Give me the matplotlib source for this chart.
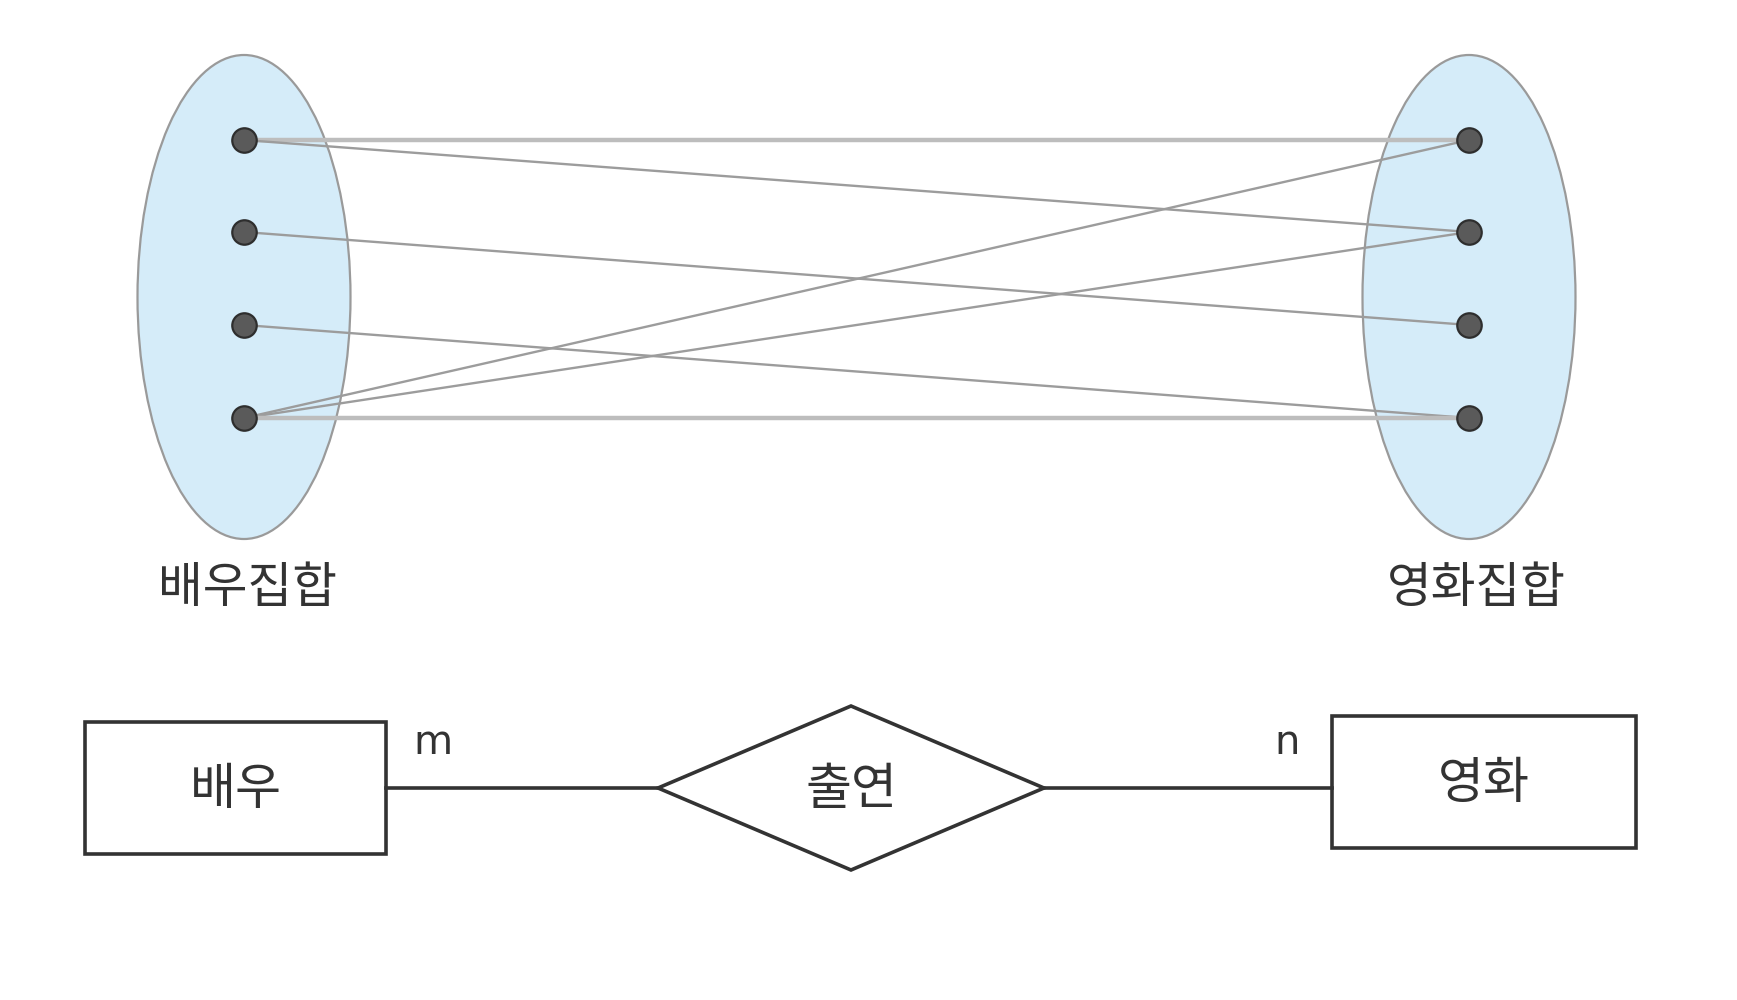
import matplotlib.pyplot as plt
from matplotlib.patches import Ellipse, Rectangle, Polygon

plt.rcParams['font.family'] = ['Noto Sans CJK KR', 'DejaVu Sans']

# set diagram (pixel coordinates, y grows downward)
set_labels = ['배우집합', '영화집합']
set_x = [244, 1469]
set_label_x = [247, 1476]
member_y = [140, 232, 325, 418]
# (actor index, movie index)
links = [(0, 0), (0, 1), (1, 2), (2, 3), (3, 0), (3, 1), (3, 3)]

# ER diagram
entity_names = ['배우', '영화']
entity_boxes = [(85, 722, 301, 132), (1332, 716, 304, 132)]
relation_name = '출연'
relation_center = (851, 788)
relation_half = (193, 82)
cardinality = ['m', 'n']
cardinality_x = [433, 1287]

fig = plt.figure(figsize=(17.37, 10), dpi=100)
ax = fig.add_axes([0, 0, 1, 1])
ax.set_xlim(0, 1737)
ax.set_ylim(1000, 0)
ax.axis('off')

# ellipses for the two sets
for x in set_x:
    ax.add_patch(Ellipse((x, 297), 213, 484, facecolor='#d5ecf9',
                         edgecolor='#9a9a9a', lw=1.6, zorder=1))

# links between members
for a, m in links:
    y0, y1 = member_y[a], member_y[m]
    if y0 == y1:
        ax.plot([set_x[0], set_x[1]], [y0, y1], color='#bdbdbd', lw=3.2, zorder=2)
    else:
        ax.plot([set_x[0], set_x[1]], [y0, y1], color='#9c9c9c', lw=1.7, zorder=2)

# member dots
for x in set_x:
    ax.scatter([x] * len(member_y), member_y, s=310, color='#5a5a5a',
               edgecolor='#2e2e2e', linewidth=1.6, zorder=3)

for lx, lab in zip(set_label_x, set_labels):
    ax.text(lx, 588, lab, fontsize=35, color='#333333', ha='center', va='center')

# ER shapes
line_col = '#333333'
cy = relation_center[1]
for (x, y, w, h), name in zip(entity_boxes, entity_names):
    ax.add_patch(Rectangle((x, y), w, h, fill=False, edgecolor=line_col, lw=2.6))
    ax.text(x + w / 2, y + h / 2 + 2, name, fontsize=36, color='#333333',
            ha='center', va='center')

rx, ry = relation_center
hw, hh = relation_half
ax.add_patch(Polygon([(rx - hw, ry), (rx, ry - hh), (rx + hw, ry), (rx, ry + hh)],
                     closed=True, fill=False, edgecolor=line_col, lw=2.6))
ax.text(rx, ry + 2, relation_name, fontsize=36, color='#333333', ha='center', va='center')

left_box, right_box = entity_boxes
ax.plot([left_box[0] + left_box[2], rx - hw], [cy, cy], color=line_col, lw=2.6)
ax.plot([rx + hw, right_box[0]], [cy, cy], color=line_col, lw=2.6)

for cx, c in zip(cardinality_x, cardinality):
    ax.text(cx, 743, c, fontsize=29, color='#333333', ha='center', va='center',
            family='DejaVu Sans')

fig.savefig('out.png', dpi=100, facecolor='white')
